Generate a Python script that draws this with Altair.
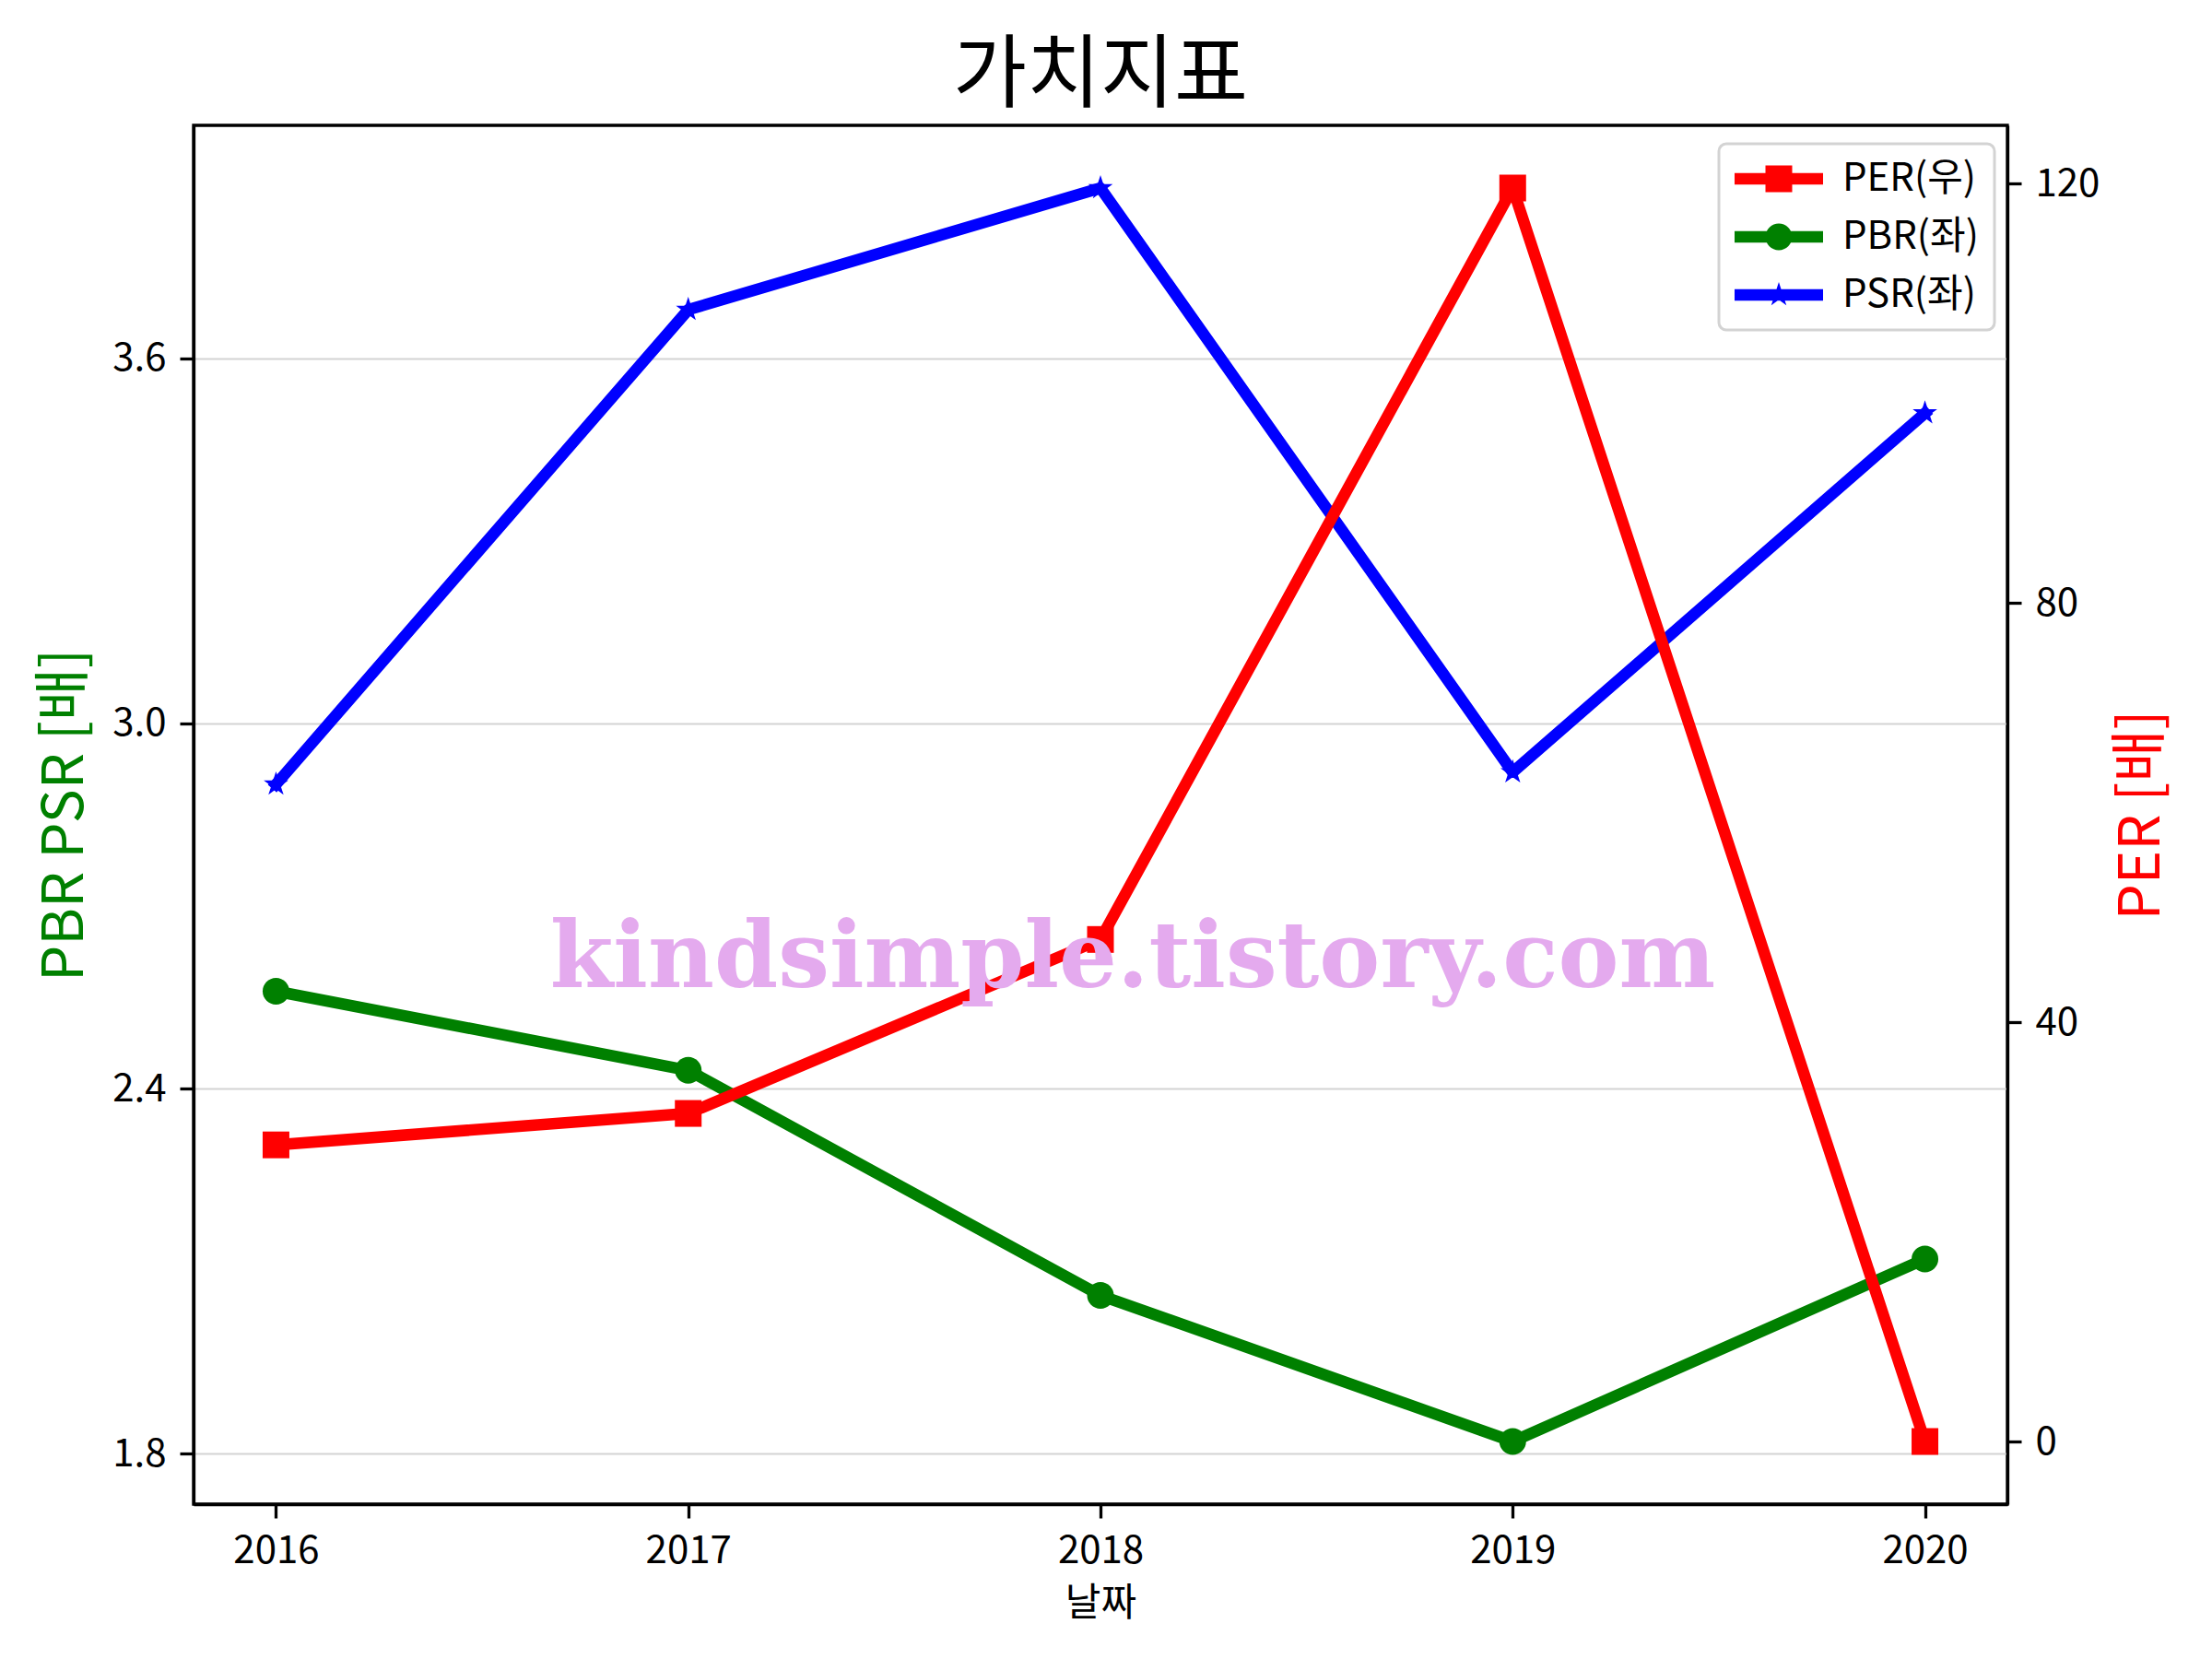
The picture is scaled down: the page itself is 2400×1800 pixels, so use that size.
import altair as alt
import pandas as pd

# ---- data ----
years = [2016, 2017, 2018, 2019, 2020]
per = [28.3, 31.3, 47.9, 119.6, 0.0]
pbr = [2.56, 2.43, 2.06, 1.82, 2.12]
psr = [2.90, 3.68, 3.88, 2.92, 3.51]
series_names = ["PER(우)", "PBR(좌)", "PSR(좌)"]
series_colors = ["red", "green", "blue"]
left_ticks = [1.8, 2.4, 3.0, 3.6]
right_ticks = [0, 40, 80, 120]

FONT = "Noto Sans CJK KR"

rows = []
for name, vals in zip(series_names, [per, pbr, psr]):
    for y, v in zip(years, vals):
        rows.append({"year": y, "series": name, "value": v})
df = pd.DataFrame(rows)


# ---- marker shapes (custom svg paths) ----
def star_path(scale=1.0, inner=0.382):
    import math
    pts = []
    for k in range(10):
        ang = math.radians(-90 + 36 * k)
        r = scale if k % 2 == 0 else scale * inner
        pts.append((r * math.cos(ang), r * math.sin(ang)))
    s = "M%.4f,%.4f " % pts[0] + " ".join("L%.4f,%.4f" % p for p in pts[1:]) + " Z"
    return s


def square_path(h):
    return "M%.3f,%.3f H%.3f V%.3f H%.3f Z" % (-h, -h, h, h, -h)


def circle_path(r):
    return "M%.3f,0 A%.3f,%.3f 0 1,1 %.3f,0 A%.3f,%.3f 0 1,1 %.3f,0 Z" % (r, r, r, -r, r, r, r)


# legend symbol: nominal size 42px (21 px per unit); handle 96px long
bar = "M-2.286,-0.298 H2.286 V0.298 H-2.286 Z "
legend_shapes = [bar + square_path(0.69), bar + circle_path(0.69), bar + star_path(0.667)]

x_enc = alt.X(
    "year:Q",
    scale=alt.Scale(domain=[2015.8, 2020.2], nice=False, zero=False),
    axis=alt.Axis(values=years, format="d", title="날짜", grid=False,
                  titleFontSize=42, titlePadding=16),
)

y_left = alt.Y(
    "value:Q",
    scale=alt.Scale(domain=[1.717, 3.983], nice=False, zero=False),
    axis=alt.Axis(values=left_ticks, format=".1f", title="PBR PSR [배]",
                  titleColor="green", titleFontSize=62, titlePadding=19,
                  grid=True, gridColor="#d3d3d3", gridWidth=2, orient="left"),
)

y_right = alt.Y(
    "value:Q",
    scale=alt.Scale(domain=[-5.98, 125.58], nice=False, zero=False),
    axis=alt.Axis(values=right_ticks, format="d", title="PER [배]",
                  titleColor="red", titleFontSize=62, titlePadding=78,
                  titleAngle=270, grid=False, orient="right"),
)

base = alt.Chart(df)
LW = 12.5


def series_layers(name, color, shape, size, y_enc):
    sub = base.transform_filter(alt.datum.series == name)
    line = sub.mark_line(color=color, strokeWidth=LW, strokeJoin="round", strokeCap="square").encode(
        x=x_enc, y=y_enc)
    pts = sub.mark_point(filled=True, color=color, shape=shape, size=size, opacity=1).encode(
        x=x_enc, y=y_enc)
    return [line, pts]


legend = alt.Legend(
    title=None, orient="none", legendX=1655, legendY=20,
    symbolSize=1764, symbolStrokeWidth=0, symbolOpacity=1, symbolOffset=27,
    labelFontSize=42, labelFont=FONT, labelColor="black", labelOffset=48,
    padding=17, rowPadding=21, strokeColor="#d3d3d3", fillColor="white",
    cornerRadius=8,
)

legend_layer = base.transform_filter("false").mark_point(filled=True).encode(
    color=alt.Color("series:N", scale=alt.Scale(domain=series_names, range=series_colors), legend=legend),
    shape=alt.Shape("series:N", scale=alt.Scale(domain=series_names, range=legend_shapes), legend=legend),
)

left = alt.layer(
    *series_layers("PBR(좌)", "green", circle_path(1.0), 841, y_left),
    *series_layers("PSR(좌)", "blue", star_path(1.0), 784, y_left),
    legend_layer,
)

right = alt.layer(*series_layers("PER(우)", "red", square_path(1.0), 841, y_right))

watermark = alt.Chart(pd.DataFrame({"t": ["kindsimple.tistory.com"]})).mark_text(
    font="DejaVu Serif", fontWeight="bold", fontSize=99, color="#E4AAEE",
    align="center", baseline="alphabetic",
).encode(text="t:N", x=alt.value(1019), y=alt.value(935))

chart = alt.layer(left, right, watermark).resolve_scale(y="independent").properties(
    width=1968,
    height=1496,
    padding={"left": 202, "top": 128, "right": 214, "bottom": 160},
    autosize=alt.AutoSizeParams(type="none"),
    title=alt.Title("가치지표", fontSize=87, font=FONT, fontWeight="normal",
                    anchor="middle", offset=8, color="black"),
).configure_view(
    stroke="black", strokeWidth=3.3,
).configure_axis(
    labelFont=FONT, labelFontSize=42, labelColor="black", labelPadding=15,
    tickSize=15, tickWidth=3.3, tickColor="black",
    domainColor="black", domainWidth=3.3,
    titleFont=FONT, titleFontWeight="normal",
).configure_legend(
    strokeWidth=3,
)

chart.save("out.html", embed_options={"renderer": "svg", "actions": False})
